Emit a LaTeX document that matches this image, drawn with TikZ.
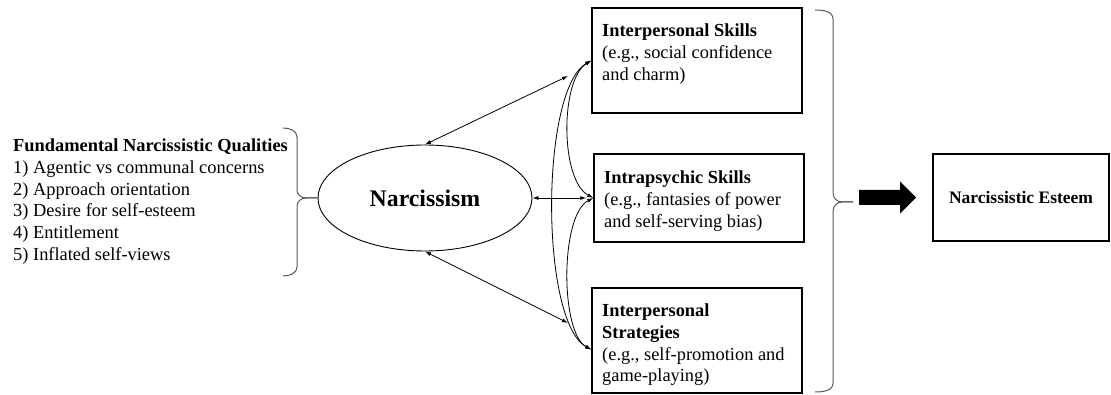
\documentclass[tikz,border=0pt]{standalone}
\usepackage{fontspec}
\setmainfont{Liberation Serif}
\usetikzlibrary{arrows.meta,shapes.geometric}
\begin{document}
\begin{tikzpicture}[x=1pt,y=-1pt,
  box/.style={draw, line width=1.4pt, rectangle, inner sep=0pt},
  txt/.style={font=\fontsize{18.4}{21.8}\selectfont, align=left, inner sep=0pt, anchor=north west},
  link/.style={line width=0.8pt, {Latex[length=6pt,width=4pt]}-{Latex[length=6pt,width=4pt]}},
  brc/.style={line width=1pt, draw=black!65}]
\useasboundingbox (0,0) rectangle (1111,395);
% boxes
\node[box, minimum width=210pt, minimum height=105pt] (b1) at (697,60.5) {};
\node[box, minimum width=210pt, minimum height=88pt] (b2) at (699,198) {};
\node[box, minimum width=210pt, minimum height=105pt] (b3) at (697,340.5) {};
\node[box, minimum width=176pt, minimum height=87pt, font=\bfseries\fontsize{17.5}{21}\selectfont] (b4) at (1021,197.5) {Narcissistic Esteem};
% ellipse
\node[draw, ellipse, line width=0.9pt, minimum width=214pt, minimum height=106pt, inner sep=0pt,
  font=\bfseries\fontsize{23.8}{28}\selectfont] (nar) at (425,198) {Narcissism};
% texts
\node[txt] (t1) at (602,23.5) {\textbf{Interpersonal Skills}\\(e.g., social confidence\\and charm)};
\node[txt] (t2) at (604,170.5) {\textbf{Intrapsychic Skills}\\(e.g., fantasies of power\\and self-serving bias)};
\node[txt] (t3) at (602,303.5) {\textbf{Interpersonal}\\\textbf{Strategies}\\(e.g., self-promotion and\\game-playing)};
\node[txt] (fq) at (13,138.5) {\textbf{Fundamental Narcissistic Qualities}\\1) Agentic vs communal concerns\\2) Approach orientation\\3) Desire for self-esteem\\4) Entitlement\\5) Inflated self-views};
% left brace
\draw[brc] (283,128) to[out=0,in=90] (297,137) -- (297,190) to[out=-90,in=180] (306,198) -- (nar.west);
\draw[brc] (nar.west) -- (306,198) to[out=180,in=90] (297,206) -- (297,267) to[out=-90,in=0] (283,276);
% right brace
\draw[brc] (815,10) to[out=0,in=90] (833,19) -- (833,193) to[out=-90,in=180] (842,202) -- (853,202);
\draw[brc] (853,202) -- (842,202) to[out=180,in=90] (833,211) -- (833,383) to[out=-90,in=0] (815,392);
% block arrow
\fill (859,190) -- (900,190) -- (900,181.5) -- (916,197.5) -- (900,213.5) -- (900,205) -- (859,205) -- cycle;
% links
\coordinate (p1) at (568,76);
\coordinate (p3) at (568,323);
\draw[link] (nar.north) -- (p1);
\draw[link] (nar.south) -- (p3);
\draw[link] (nar.east) -- ([xshift=-7pt]b2.west);
\draw[link] (b1.west) .. controls (560,80) and (560,180) .. (b2.west);
\draw[link] (b2.west) .. controls (560,215) and (560,333) .. ([yshift=-9pt]b3.west);
\draw[link] (b1.west) .. controls (540,90) and (540,322) .. ([yshift=-9pt]b3.west);
\end{tikzpicture}
\end{document}
